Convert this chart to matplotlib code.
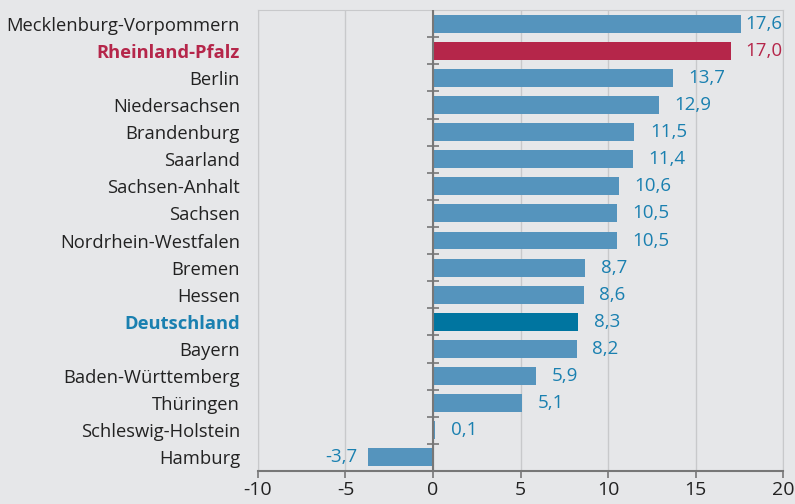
import numpy as np
import matplotlib.pyplot as plt

laender = ["Mecklenburg-Vorpommern", "Rheinland-Pfalz", "Berlin", "Niedersachsen",
           "Brandenburg", "Saarland", "Sachsen-Anhalt", "Sachsen",
           "Nordrhein-Westfalen", "Bremen", "Hessen", "Deutschland", "Bayern",
           "Baden-Württemberg", "Thüringen", "Schleswig-Holstein", "Hamburg"]
werte = [17.6, 17.0, 13.7, 12.9, 11.5, 11.4, 10.6, 10.5, 10.5, 8.7, 8.6, 8.3,
         8.2, 5.9, 5.1, 0.1, -3.7]
xticks = [-10, -5, 0, 5, 10, 15, 20]

bg = "#e6e7e9"
blau = "#5594bd"
rot = "#b5264a"
dblau = "#0075a0"
txtblau = "#1a80b0"

plt.rcParams['font.family'] = ['Open Sans', 'DejaVu Sans']

fig = plt.figure(figsize=(7.95, 5.04), dpi=100, facecolor=bg)
ax = fig.add_axes([0.3245, 0.0655, 0.6605, 0.9145], facecolor=bg)

y = np.arange(len(laender))[::-1]
farben = []
for name in laender:
    if name == "Rheinland-Pfalz":
        farben.append(rot)
    elif name == "Deutschland":
        farben.append(dblau)
    else:
        farben.append(blau)
ax.barh(y, werte, height=0.66, color=farben, zorder=3)

for yi, w, name in zip(y, werte, laender):
    txt = f"{w:.1f}".replace(".", ",")
    col = rot if name == "Rheinland-Pfalz" else txtblau
    if w >= 0:
        # rechts nicht über den Rand hinausschreiben
        ax.text(min(w + 0.9, 17.85), yi, txt, va="center", ha="left",
                fontsize=13.5, color=col)
    else:
        ax.text(w - 0.6, yi, txt, va="center", ha="right", fontsize=13.5, color=col)

ax.set_xlim(-10, 20)
ax.set_ylim(-0.5, len(laender) - 0.5)
ax.set_xticks(xticks)
ax.set_xticklabels([str(t) for t in xticks], fontsize=14, color="#222222")
ax.set_yticks(y)
ax.set_yticklabels(laender, fontsize=13.2, color="#222222")
for lbl, name in zip(ax.get_yticklabels(), laender):
    if name == "Rheinland-Pfalz":
        lbl.set_color(rot)
        lbl.set_fontweight("bold")
    elif name == "Deutschland":
        lbl.set_color(txtblau)
        lbl.set_fontweight("bold")
ax.tick_params(axis="y", length=0, pad=13)
ax.tick_params(axis="x", length=5, width=1.2, color="#777777", pad=2)

ax.grid(axis="x", color="#c8c9cb", linewidth=1, zorder=0)
for s in ["top", "right", "left"]:
    ax.spines[s].set_color("#c8c9cb")
ax.spines["bottom"].set_color("#777777")
ax.spines["bottom"].set_linewidth(1.5)

# Nulllinie mit Trennstrichen zwischen den Kategorien
ax.axvline(0, color="#777777", linewidth=1.5, zorder=4)
grenzen = np.arange(len(laender) - 1) + 0.5
ax.hlines(grenzen, -0.35, 0.35, color="#777777", linewidth=1.2, zorder=4)

fig.savefig("out.png", dpi=100, facecolor=bg)
